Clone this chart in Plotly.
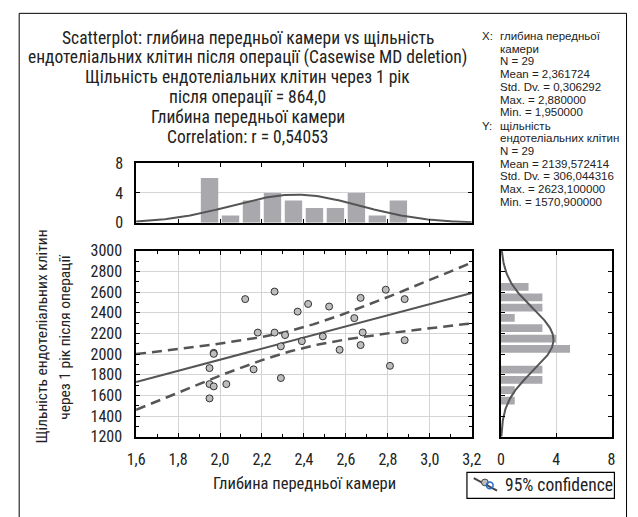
import numpy as np
import plotly.graph_objects as go

# ---- data ----
depth = [2.12, 2.26, 2.18, 2.26, 1.97, 1.97, 1.95, 2.16, 1.95, 1.97, 2.03, 1.95,
         2.31, 2.29, 2.29, 2.37, 2.42, 2.39, 2.52, 2.49, 2.57, 2.64, 2.67, 2.68,
         2.67, 2.79, 2.81, 2.88, 2.88]
density = [2532, 2605, 2208, 2208, 2012, 2002, 1864, 1852, 1709, 1687, 1709, 1570.9,
           2184, 2075, 1768, 2411, 2485, 2125, 2460, 2171, 2041, 2348, 2544, 2209,
           2087, 2623.1, 1886, 2532, 2134]
x_ticks = [1.6, 1.8, 2.0, 2.2, 2.4, 2.6, 2.8, 3.0, 3.2]
y_ticks = [1200, 1400, 1600, 1800, 2000, 2200, 2400, 2600, 2800, 3000]
hist_ticks = [0, 4, 8]
x_bin_edges = [1.9, 2.0, 2.1, 2.2, 2.3, 2.4, 2.5, 2.6, 2.7, 2.8, 2.9]
y_bin_edges = [1500, 1600, 1700, 1800, 1900, 2000, 2100, 2200, 2300, 2400, 2500, 2600, 2700]

title_lines = ["Scatterplot: глибина передньої камери vs щільність",
               "ендотеліальних клітин після операції (Casewise MD deletion)",
               "Щільність ендотеліальних клітин через 1 рік",
               "після операції = 864,0",
               "Глибина передньої камери",
               "Correlation: r = 0,54053"]
stats_x = ["X:", "глибина передньої", "камери", "N = 29", "Mean = 2,361724",
           "Std. Dv. = 0,306292", "Max. = 2,880000", "Min. = 1,950000"]
stats_y = ["Y:", "щільність", "ендотеліальних клітин", "N = 29", "Mean = 2139,572414",
           "Std. Dv. = 306,044316", "Max. = 2623,100000", "Min. = 1570,900000"]
x_title = "Глибина передньої камери"
y_title = ["Щільність ендотеліальних клітин", "через 1 рік після операції"]
legend_text = "95% confidence"

W, H = 638, 517
def PX(p): return p / W
def PY(p): return 1 - p / H

FONT = "Liberation Sans Narrow, Roboto Condensed, DejaVu Sans Condensed, Arial Narrow, sans-serif"
SFONT = "Liberation Sans, Arial, sans-serif"
TXT = "#222222"
DARK = "#555555"
BAR = "#a9a9ad"
GRID = "#d4d4d4"

x = np.array(depth, float)
y = np.array(density, float)
n = len(x)
mx, my = x.mean(), y.mean()
sx, sy = x.std(ddof=1), y.std(ddof=1)
b, a = np.polyfit(x, y, 1)
resid = y - (a + b * x)
s = np.sqrt((resid ** 2).sum() / (n - 2))
sxx = ((x - mx) ** 2).sum()
tcrit = 2.0518  # t(0.975, df=27)
xl = np.linspace(x_ticks[0], x_ticks[-1], 200)
yl = a + b * xl
half = tcrit * s * np.sqrt(1 / n + (xl - mx) ** 2 / sxx)

fig = go.Figure()

fig.add_trace(go.Scatter(x=xl, y=yl, mode="lines", line=dict(color=DARK, width=2), xaxis="x", yaxis="y"))
fig.add_trace(go.Scatter(x=xl, y=yl + half, mode="lines", line=dict(color=DARK, width=2.5, dash="10px,6px"), xaxis="x", yaxis="y"))
fig.add_trace(go.Scatter(x=xl, y=yl - half, mode="lines", line=dict(color=DARK, width=2.5, dash="10px,6px"), xaxis="x", yaxis="y"))
fig.add_trace(go.Scatter(x=depth, y=density, mode="markers",
                         marker=dict(size=7, color="#bdbdbd", line=dict(color="#333333", width=1)),
                         xaxis="x", yaxis="y"))

cx, ex = np.histogram(x, bins=x_bin_edges)
fig.add_trace(go.Bar(x=(ex[:-1] + ex[1:]) / 2, y=cx, width=0.083, marker=dict(color=BAR, line=dict(width=0)),
                     xaxis="x2", yaxis="y2"))
xc = np.linspace(x_ticks[0], x_ticks[-1], 200)
fig.add_trace(go.Scatter(x=xc, y=n * 0.1 * np.exp(-0.5 * ((xc - mx) / sx) ** 2) / (sx * np.sqrt(2 * np.pi)),
                         mode="lines", line=dict(color=DARK, width=2), xaxis="x2", yaxis="y2"))

cy, ey = np.histogram(y, bins=y_bin_edges)
fig.add_trace(go.Bar(y=(ey[:-1] + ey[1:]) / 2, x=cy, width=75, orientation="h",
                     marker=dict(color=BAR, line=dict(width=0)), xaxis="x3", yaxis="y3"))
yc = np.linspace(y_ticks[0], y_ticks[-1], 200)
fig.add_trace(go.Scatter(y=yc, x=n * 100 * np.exp(-0.5 * ((yc - my) / sy) ** 2) / (sy * np.sqrt(2 * np.pi)),
                         mode="lines", line=dict(color=DARK, width=2), xaxis="x3", yaxis="y3"))

ax = dict(showline=True, linecolor="black", linewidth=1.5, mirror="allticks", ticks="inside",
          ticklen=4, tickcolor="black", zeroline=False, gridcolor=GRID, gridwidth=1,
          tickfont=dict(family=FONT, size=16, color=TXT))

main_x = [PX(131), PX(477)]
main_y = [PY(444), PY(251)]
top_y = [PY(222), PY(160)]
right_x = [PX(507), PX(621)]

fig.update_layout(
    width=W, height=H, margin=dict(l=0, r=0, t=0, b=0), autosize=False,
    paper_bgcolor="white", plot_bgcolor="white", showlegend=False, separators=", ",
    font=dict(family=FONT, color=TXT),
    xaxis=dict(ax, domain=main_x, range=[1.6, 3.2], tickvals=x_ticks, tickformat=".1f", anchor="y",
               ticklabelstandoff=7,
               minor=dict(ticks="inside", dtick=0.1, ticklen=3, tickcolor="black", showgrid=False)),
    yaxis=dict(ax, domain=main_y, range=[1200, 3000], tickvals=y_ticks, anchor="x", ticklabelstandoff=9,
               minor=dict(ticks="inside", dtick=100, ticklen=3, tickcolor="black", showgrid=False)),
    xaxis2=dict(ax, domain=main_x, range=[1.6, 3.2], tickvals=x_ticks, showticklabels=False, showgrid=False, anchor="y2"),
    yaxis2=dict(ax, domain=top_y, range=[0, 8], tickvals=hist_ticks, anchor="x2", ticklabelstandoff=8),
    xaxis3=dict(ax, domain=right_x, range=[0, 8], tickvals=hist_ticks, anchor="y3", ticklabelstandoff=7),
    yaxis3=dict(ax, domain=main_y, range=[1200, 3000], tickvals=y_ticks, showticklabels=False, showgrid=False, anchor="x3"),
)

ann = []
def txt(t, px, py, size, xanchor="center", angle=0, family=FONT):
    ann.append(dict(x=PX(px), y=PY(py), xref="paper", yref="paper", text=t, showarrow=False,
                    textangle=angle, font=dict(size=size, family=family, color=TXT),
                    xanchor=xanchor, yanchor="middle", borderpad=0))

for t, py in zip(title_lines, [30, 50, 71, 91, 112, 133]):
    txt(t, 246, py, 17.5)

# statistics blocks
SF = 11.5
txt(stats_x[0], 487, 28, SF, "left", family=SFONT)
for i, t in enumerate(stats_x[1:]):
    txt(t, 505, 28 + 13.2 * i, SF, "left", family=SFONT)
txt(stats_y[0], 487, 121, SF, "left", family=SFONT)
for i, t in enumerate(stats_y[1:]):
    txt(t, 505, 121 + 13.2 * i, SF, "left", family=SFONT)

txt(x_title, 305, 493, 16.5)
txt(y_title[0], 33, 340, 15.5, angle=-90)
txt(y_title[1], 57, 340, 15.5, angle=-90)
txt(legend_text, 510, 494, 17.5, "left")
fig.update_layout(annotations=ann)

shapes = [
    dict(type="rect", xref="paper", yref="paper", x0=PX(10.5), x1=PX(636.5), y0=PY(530), y1=PY(4.5),
         line=dict(color="black", width=1), layer="below"),
    dict(type="rect", xref="paper", yref="paper", x0=PX(472), x1=PX(624), y0=PY(508), y1=PY(481),
         line=dict(color="black", width=1.2)),
    dict(type="line", xref="paper", yref="paper", x0=PX(479), y0=PY(487), x1=PX(503), y1=PY(500),
         line=dict(color="#444444", width=2)),
    dict(type="circle", xref="paper", yref="paper", x0=PX(487), x1=PX(494), y0=PY(495), y1=PY(488),
         line=dict(color="#444444", width=1), fillcolor="#bdbdbd"),
    dict(type="circle", xref="paper", yref="paper", x0=PX(492), x1=PX(499), y0=PY(498), y1=PY(491),
         line=dict(color="#2a6ac9", width=1.5)),
]
fig.update_layout(shapes=shapes)

fig.write_html("out.html")
